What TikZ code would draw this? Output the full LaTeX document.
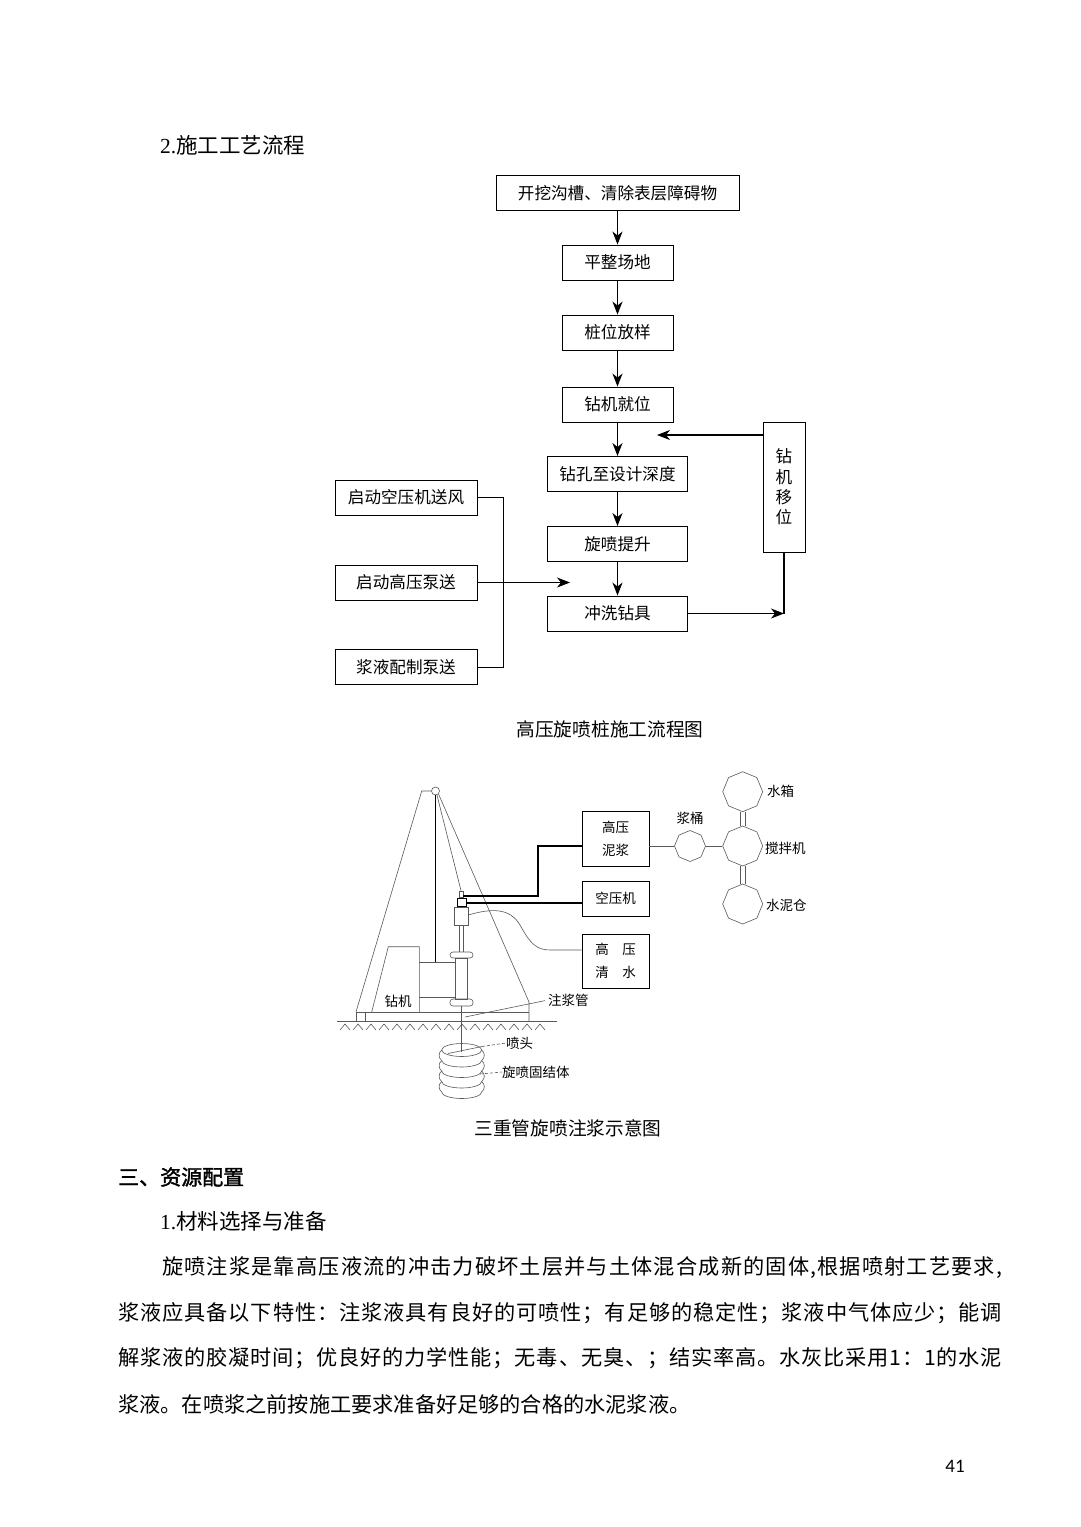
\documentclass[tikz,border=0pt]{standalone}
\usepackage{fontspec}
\setmainfont{Liberation Serif}
\newfontfamily\cjk{Noto Sans CJK SC}
\newfontfamily\cjkbold[FakeBold=1.6]{Noto Sans CJK SC}
\newfontfamily\pagefont{Carlito}
\usetikzlibrary{arrows.meta}
\usetikzlibrary{shapes.geometric}

\newcommand{\fsize}[1]{\fontsize{#1}{#1}\selectfont}
% spread the characters of one justified line
\def\spreadtext#1{\spreadfirst#1\relax}
\def\spreadfirst#1{#1\spreadloop}
\def\spreadloop#1{\ifx#1\relax\else\hskip 0pt plus 1fil\relax#1\expandafter\spreadloop\fi}

\begin{document}
\begin{tikzpicture}[x=1pt,y=-1pt,
flowbox/.style={draw, line width=0.9pt, minimum height=35pt, inner sep=0pt, font=\cjk\fsize{16.6}},
flowarrow/.style={-{Stealth[length=13pt,width=10pt,inset=4pt]}, line width=1.1pt},
feed/.style={-{Stealth[length=13pt,width=10pt,inset=4pt]}, line width=0.8pt},
rigline/.style={draw=black!65, line width=0.6pt},
hose/.style={line width=1.7pt},
unitbox/.style={draw, line width=0.9pt, minimum width=67pt, inner sep=0pt, font=\cjk\fontsize{13.5}{23}\selectfont, align=center},
tank/.style={draw=black!65, line width=0.6pt, regular polygon, regular polygon sides=8, shape border rotate=22.5, inner sep=0pt},
riglabel/.style={font=\cjk\fsize{13.5}, inner sep=0pt},
bodytext/.style={font=\cjk\fsize{21.2}, anchor=west, inner sep=0pt}]
\fill[white] (0,0) rectangle (1080,1527);
\useasboundingbox (0,0) rectangle (1080,1527);

\node[font=\cjk\fsize{21.5}, anchor=west, inner sep=0pt] (heading) at (160,145) {{\rmfamily 2.}施工工艺流程};

% flow chart
\node[flowbox, minimum width=243pt] (clear) at (617.5,193) {开挖沟槽、清除表层障碍物};
\node[flowbox, minimum width=111pt] (level) at (617.5,262.5) {平整场地};
\node[flowbox, minimum width=111pt] (stake) at (617.5,332.5) {桩位放样};
\node[flowbox, minimum width=111pt] (place) at (617.5,404.5) {钻机就位};
\node[flowbox, minimum width=140pt] (drill) at (617.5,474) {钻孔至设计深度};
\node[flowbox, minimum width=140pt] (lift) at (617.5,544) {旋喷提升};
\node[flowbox, minimum width=140pt] (flush) at (617.5,613.5) {冲洗钻具};
\node[flowbox, minimum width=42pt, minimum height=130pt, font=\cjk\fontsize{16.6}{20.3}\selectfont, align=center] (move) at (784,487) {钻\\机\\移\\位};
\node[flowbox, minimum width=142pt] (air) at (406,497.5) {启动空压机送风};
\node[flowbox, minimum width=142pt] (pump) at (406,582.5) {启动高压泵送};
\node[flowbox, minimum width=142pt] (slurry) at (406,667) {浆液配制泵送};

\foreach \a/\b in {clear/level, level/stake, stake/place, place/drill, drill/lift, lift/flush}
  \draw[flowarrow] (\a) -- (\b);
\coordinate (back) at (657,435);
\draw[flowarrow] (move.west |- back) -- (back);
\coordinate (bus) at (503,500);
\draw[line width=0.8pt] (air.east) -| (bus |- slurry.east) -- (slurry.east);
\coordinate (join) at (570,582.5);
\draw[feed] (pump.east) -- (join);
\draw[flowarrow] (flush.east) -- (move.south |- flush.east);
\draw[line width=1.1pt] (move.south) -- (move.south |- flush.east);

\node[font=\cjk\fsize{18.7}] (flowcap) at (610,729) {高压旋喷桩施工流程图};

% drilling rig
\node[circle, draw=black!65, line width=0.6pt, minimum size=8pt, inner sep=0pt] (pulley) at (435.5,791) {};
\draw[rigline] (pulley.west) -- (421.7,791) -- (356,1012);
\draw[line width=1.6pt] (pulley.south) -- (435.5,962);
\draw[rigline] (pulley.-45) -- (529,1002) -- (529,1021);
\draw[rigline] (pulley.-70) -- (461.3,891.7);
\draw[rigline] (371.7,1012) -- (388.3,946.7) -- (419.3,946.7) -- (419.3,1012);
\draw[rigline] (419.3,962) -- (455,962);
\draw[rigline] (419.3,997) -- (455,997);
\draw[rigline] (356,1012) -- (529,1012);
\draw[rigline] (356,1012) -- (356,1021);
\draw[rigline] (365,1012) -- (365,1021);
\draw[rigline] (337,1021) -- (557,1021);
\foreach \x in {340,353,...,545}
  \draw[rigline] (\x,1030) -- (\x+5,1024) -- (\x+10,1030);
% swivel, column and pipe
\draw[rigline] (459.3,891.7) rectangle (463.3,897.5);
\draw[line width=1.3pt] (457.3,898.3) rectangle (466.7,907);
\draw[rigline] (454,907) rectangle (468.3,925);
\draw[rigline] (459,925) -- (459,952);
\draw[rigline] (463,925) -- (463,952);
\draw[rigline] (455,958) rectangle (467,999);
\draw[rigline, rounded corners=3pt] (450,952) rectangle (473,958);
\draw[rigline, rounded corners=3pt] (450,999) rectangle (473,1006);
\draw[rigline] (461,1006) -- (461,1052);
% jet grouting body
\draw[rigline] (461.7,1050) ellipse [x radius=20, y radius=6.5];
\foreach \y in {1060.5,1071,1081.5,1092} {
  \draw[rigline] (441.7,\y) arc[start angle=180, end angle=0, x radius=20, y radius=6.5];
  \draw[rigline] (441.7,\y-10.5) .. controls (438.2,\y-7.5) and (438.2,\y-3) .. (441.7,\y);
  \draw[rigline] (481.7,\y-10.5) .. controls (485.2,\y-7.5) and (485.2,\y-3) .. (481.7,\y);
}

% supply units
\node[unitbox, minimum height=55pt] (mud) at (615.5,838.5) {高压\\泥浆};
\node[unitbox, minimum height=35pt] (compressor) at (615.5,898.5) {空压机};
\node[unitbox, minimum height=54pt] (cleanwater) at (615.5,961) {高　压\\清　水};
\coordinate (hoseA) at (463.3,896);
\coordinate (hoseB) at (466.7,903);
\coordinate (hoseC) at (468.3,915);
\coordinate (hoseturn) at (538,846);
\coordinate (hoseCend) at (550,950);
\draw[hose] (hoseA) -| (hoseturn) -- (mud.west |- hoseturn);
\draw[hose] (hoseB) -- (compressor.west |- hoseB);
\draw[rigline] (hoseC) .. controls (492,908) and (510,908) .. (520,925)
  .. controls (530,943) and (536,950) .. (hoseCend) -- (cleanwater.west |- hoseCend);

\node[tank, minimum size=31pt] (barrel) at (690,846) {};
\node[tank, minimum size=40pt] (mixer) at (742.7,846) {};
\node[tank, minimum size=40pt] (watertank) at (742.7,791.7) {};
\node[tank, minimum size=40pt] (cement) at (742.7,904) {};
\draw[rigline] (mud.east |- barrel) -- (barrel.west);
\draw[rigline] (barrel.east) -- (mixer.west);
\foreach \dx in {-2.5,2.5} {
  \draw[rigline] ([xshift=\dx pt]watertank.south) -- ([xshift=\dx pt]mixer.north);
  \draw[rigline] ([xshift=\dx pt]mixer.south) -- ([xshift=\dx pt]cement.north);
}
\node[riglabel] (barrellabel) at (690,818) {浆桶};
\node[riglabel, anchor=west] (waterlabel) at (767,791.7) {水箱};
\node[riglabel, anchor=west] (mixerlabel) at (765,848) {搅拌机};
\node[riglabel, anchor=west] (cementlabel) at (766,905) {水泥仓};
\node[riglabel] (riglabel) at (398,1001) {钻机};
\node[riglabel, anchor=west] (pipelabel) at (548,1000) {注浆管};
\node[riglabel, anchor=west] (nozzlelabel) at (506,1043) {喷头};
\node[riglabel, anchor=west] (bodylabel) at (502,1072) {旋喷固结体};
\draw[rigline, shorten >=3pt] (465,1017) -- (pipelabel.west);
\coordinate (jet) at (482,1046.5);
\draw[rigline] (448,1053.5) -- (jet);
\draw[rigline, dash pattern=on 3pt off 2pt] (jet) -- (nozzlelabel.west);
\draw[rigline, dash pattern=on 3pt off 2pt] (480,1074) -- (bodylabel.west);

\node[font=\cjk\fsize{18.7}] (rigcap) at (568,1128) {三重管旋喷注浆示意图};

% text of the page
\node[font=\cjkbold\fsize{21}, anchor=west, inner sep=0pt] (section) at (118,1177) {三、资源配置};
\node[font=\cjk\fsize{21.5}, anchor=west, inner sep=0pt] (subsec) at (160,1221) {{\rmfamily 1.}材料选择与准备};
\node[bodytext] (line1) at (162,1268) {\hbox to 840pt{\spreadtext{旋喷注浆是靠高压液流的冲击力破坏土层并与土体混合成新的固体,根据喷射工艺要求,}}};
\node[bodytext] (line2) at (118,1313) {\hbox to 884pt{\spreadtext{浆液应具备以下特性：注浆液具有良好的可喷性；有足够的稳定性；浆液中气体应少；能调}}};
\node[bodytext] (line3) at (118,1358) {\hbox to 884pt{\spreadtext{解浆液的胶凝时间；优良好的力学性能；无毒、无臭、；结实率高。水灰比采用1：1的水泥}}};
\node[bodytext] (line4) at (118,1404) {浆液。在喷浆之前按施工要求准备好足够的合格的水泥浆液。};
\node[font=\pagefont\fsize{19}] (pagenum) at (955,1466) {41};
\end{tikzpicture}
\end{document}
